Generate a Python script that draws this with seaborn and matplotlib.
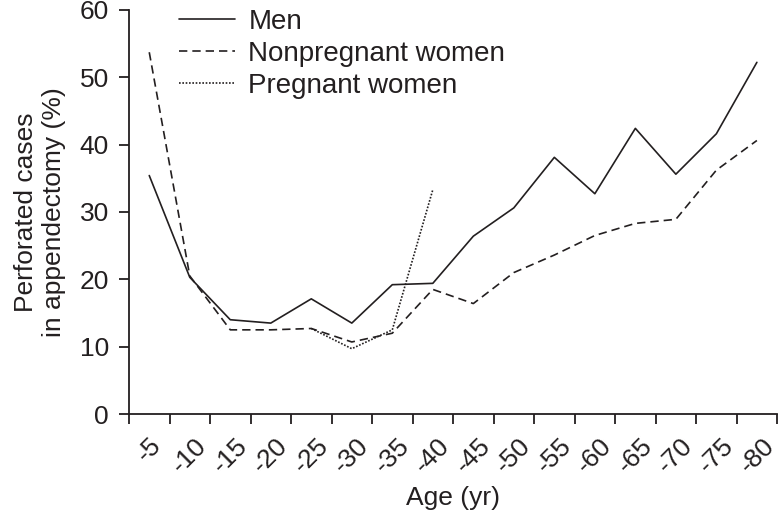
import numpy as np
import pandas as pd
import matplotlib
matplotlib.use("Agg")
import matplotlib.pyplot as plt
import seaborn as sns

# Age groups (upper bound of each 5-year bin)
ages = ["-5", "-10", "-15", "-20", "-25", "-30", "-35", "-40",
        "-45", "-50", "-55", "-60", "-65", "-70", "-75", "-80"]

men = [35.4, 20.3, 14.0, 13.5, 17.1, 13.5, 19.2, 19.4,
       26.4, 30.6, 38.1, 32.7, 42.4, 35.6, 41.6, 52.2]
nonpregnant = [53.7, 20.5, 12.5, 12.5, 12.7, 10.7, 12.0, 18.5,
               16.4, 21.0, 23.6, 26.5, 28.3, 28.9, 36.2, 40.6]
# pregnant women only reported for ages -25 to -40
pregnant_ages = ["-25", "-30", "-35", "-40"]
pregnant = [12.7, 9.7, 12.5, 33.3]

groups = ["Men", "Nonpregnant women", "Pregnant women"]

pos = {a: i + 0.5 for i, a in enumerate(ages)}

df = pd.concat([
    pd.DataFrame({"age": ages, "value": men, "group": groups[0]}),
    pd.DataFrame({"age": ages, "value": nonpregnant, "group": groups[1]}),
    pd.DataFrame({"age": pregnant_ages, "value": pregnant, "group": groups[2]}),
])
df["x"] = df["age"].map(pos)

sns.set_style("ticks")
plt.rcParams["font.family"] = ["Liberation Sans", "DejaVu Sans"]
ink = "#231f20"
plt.rcParams["text.color"] = ink
plt.rcParams["axes.labelcolor"] = ink
plt.rcParams["xtick.color"] = ink
plt.rcParams["ytick.color"] = ink

fig = plt.figure(figsize=(7.79, 5.15), dpi=100)
ax = fig.add_axes([0.1656, 0.196, 0.832, 0.785])

sns.lineplot(
    data=df, x="x", y="value", style="group", style_order=groups,
    dashes={groups[0]: "", groups[1]: (5, 3), groups[2]: (1, 1)},
    color=ink, linewidth=1.2, ax=ax, legend=True,
)

ax.set_xlim(0, len(ages))
ax.set_ylim(0, 60)
ax.set_yticks(np.arange(0, 61, 10))
ax.set_xticks(np.arange(0, len(ages) + 1), minor=False)
ax.set_xticklabels([])
ax.set_xticks([pos[a] for a in ages], minor=True)
ax.set_xticklabels(ages, minor=True, rotation=45, fontsize=19)
ax.tick_params(axis="x", which="minor", length=0, pad=14)
ax.tick_params(axis="both", which="major", length=7.5, width=1.3, labelsize=19)
ax.tick_params(axis="y", pad=7)

for s in ["left", "bottom"]:
    ax.spines[s].set_linewidth(1.3)
    ax.spines[s].set_color(ink)
sns.despine(ax=ax)

ax.set_xlabel("Age (yr)", fontsize=19, labelpad=6)
ax.set_ylabel("Perforated cases\nin appendectomy (%)", fontsize=19, labelpad=10,
              linespacing=1.2)

leg = ax.legend(loc="upper left", bbox_to_anchor=(0.06, 1.03), frameon=False,
                fontsize=20, handlelength=2.0, handletextpad=0.5,
                labelspacing=0.22, borderaxespad=0)
for h in leg.get_lines():
    h.set_color(ink)
    h.set_linewidth(1.2)

fig.savefig("out.png", dpi=100)
